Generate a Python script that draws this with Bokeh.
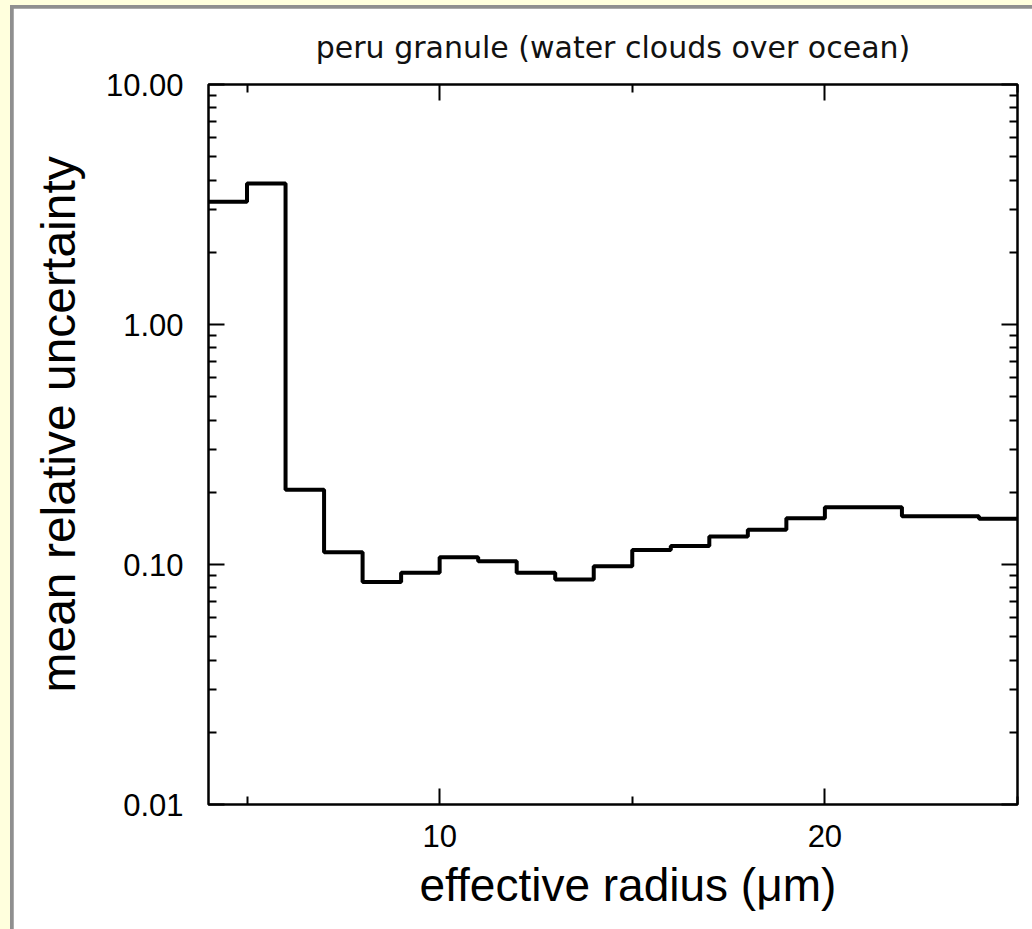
from bokeh.plotting import figure
from bokeh.layouts import column
from bokeh.models import (FixedTicker, PrintfTickFormatter, LinearAxis, LogAxis,
                          Range1d, CustomJSTickFormatter, Title)
from bokeh.embed import file_html
from bokeh.resources import INLINE

# ---- data ----
bin_edges = [4, 5, 6, 7, 8, 9, 10, 11, 12, 13, 14, 15, 16, 17, 18, 19, 20, 21, 22, 23, 24, 25]
uncertainty = [3.25, 3.87, 0.205, 0.1125, 0.0845, 0.0923, 0.1073, 0.1032, 0.0923, 0.0866,
               0.0984, 0.115, 0.1194, 0.1309, 0.1395, 0.156, 0.1733, 0.1733, 0.159, 0.159, 0.155]

title_text = "peru granule (water clouds over ocean)"
x_label = "effective radius (\u03bcm)"
y_label = "mean relative uncertainty"
x_major_ticks = [10, 20]
x_minor_ticks = [5, 15, 25]
y_major_ticks = [0.01, 0.1, 1, 10]
y_minor_ticks = [k * 10.0 ** e for e in (-2, -1, 0) for k in range(2, 10)]

FONT = "Liberation Sans"

p = figure(width=1019, height=921,
           x_range=Range1d(4, 25), y_range=Range1d(0.01, 10),
           y_axis_type="log", output_backend="svg", toolbar_location=None,
           min_border_left=194, min_border_right=15, min_border_top=76, min_border_bottom=125,
           background_fill_color="white", border_fill_color="white",
           outline_line_color="black", outline_line_width=2.5)
p.margin = (3, 0, 0, 3)
p.grid.visible = False

p.title.text = title_text
p.title.align = "center"
p.title.text_font = "DejaVu Sans"
p.title.text_font_size = "30px"
p.title.text_font_style = "normal"
p.title.text_color = "#111111"
p.title.standoff = 39

xt = FixedTicker(ticks=x_major_ticks, minor_ticks=x_minor_ticks)
yt = FixedTicker(ticks=y_major_ticks, minor_ticks=y_minor_ticks)


def style(ax):
    ax.axis_line_color = None
    ax.major_tick_in = 16
    ax.major_tick_out = 0
    ax.minor_tick_in = 8
    ax.minor_tick_out = 0
    ax.major_tick_line_color = "black"
    ax.major_tick_line_width = 2
    ax.minor_tick_line_color = "black"
    ax.minor_tick_line_width = 2
    ax.major_label_text_font = FONT
    ax.major_label_text_font_size = "31px"
    ax.major_label_text_color = "black"


def blank(ax):
    style(ax)
    ax.formatter = CustomJSTickFormatter(code="return ''")
    ax.major_label_text_font_size = "1px"
    ax.major_label_standoff = 0


xa = p.xaxis[0]
xa.ticker = xt
style(xa)
xa.major_label_standoff = 20

ya = p.yaxis[0]
ya.ticker = yt
style(ya)
ya.formatter = PrintfTickFormatter(format="%.2f")
ya.major_label_standoff = 25

top = LinearAxis(ticker=xt)
blank(top)
p.add_layout(top, "above")

right = LogAxis(ticker=yt)
blank(right)
p.add_layout(right, "right")

# axis titles (placed like the reference: not exactly centred on the frame)
xlab = Title(text=x_label, align="left", offset=211, text_font=FONT,
             text_font_size="46px", text_font_style="normal", text_color="black",
             standoff=14)
p.add_layout(xlab, "below")

ylab = Title(text=y_label, align="left", offset=112, text_font=FONT,
             text_font_size="48px", text_font_style="normal", text_color="black",
             vertical_align="middle", standoff=34)
p.add_layout(ylab, "left")

p.step(x=bin_edges, y=uncertainty + [uncertainty[-1]], mode="after",
       line_width=4, line_color="black")

inner = column(p, margin=(5, 0, 0, 10), styles={"background-color": "#8f8f8f"})
outer = column(inner, width=1032, height=929, styles={"background-color": "#FFFFDD"})

open("out.html", "w").write(file_html(outer, INLINE))
